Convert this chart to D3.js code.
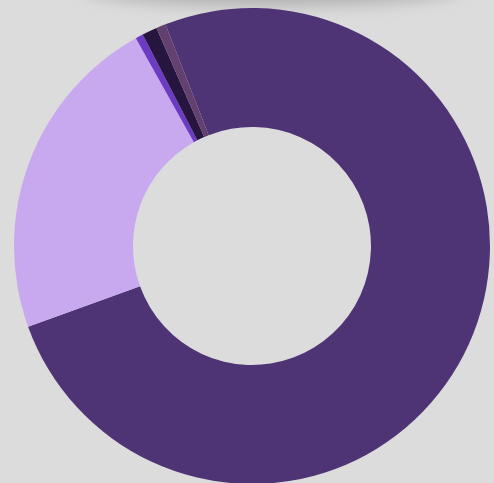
<!DOCTYPE html>
<html>
<head>
<meta charset="utf-8">
<script src="https://cdn.jsdelivr.net/npm/d3@7"></script>
<style>
  html, body { margin: 0; padding: 0; background: #dcdcdc; overflow: hidden; }
  #chart { width: 494px; height: 483px; }
</style>
</head>
<body>
<div id="chart"></div>
<script>
// slice values, in the order they are laid out clockwise
var categories = ['A', 'B', 'C', 'D', 'E'];
var values = [75.42, 22.39, 0.52, 1.02, 0.65];
var colors = ['#4f3475', '#c8a9f0', '#6b3bc4', '#26163f', '#62406f'];

var width = 494;
var height = 483;
var outerRadius = 238;
var innerRadius = 119;

var svg = d3.select('#chart')
    .append('svg')
    .attr('width', width)
    .attr('height', height);

// soft shadow bleeding in from above
var defs = svg.append('defs');
defs.append('filter')
    .attr('id', 'blur')
    .attr('x', '-50%').attr('y', '-50%')
    .attr('width', '200%').attr('height', '200%')
    .append('feGaussianBlur')
    .attr('stdDeviation', 9);

svg.append('ellipse')
    .attr('cx', 272)
    .attr('cy', -14)
    .attr('rx', 190)
    .attr('ry', 18)
    .attr('fill', '#a8a8a8')
    .attr('filter', 'url(#blur)');

var g = svg.append('g')
    .attr('transform', 'translate(252,246)');

var pie = d3.pie()
    .sort(null)
    .startAngle(-21.33 * Math.PI / 180)
    .endAngle(2 * Math.PI - 21.33 * Math.PI / 180);

var arc = d3.arc()
    .innerRadius(innerRadius)
    .outerRadius(outerRadius);

var color = d3.scaleOrdinal()
    .domain(categories)
    .range(colors);

g.selectAll('path')
    .data(pie(values))
    .enter()
    .append('path')
    .attr('d', arc)
    .attr('fill', function(d, i) { return color(categories[i]); });
</script>
</body>
</html>
